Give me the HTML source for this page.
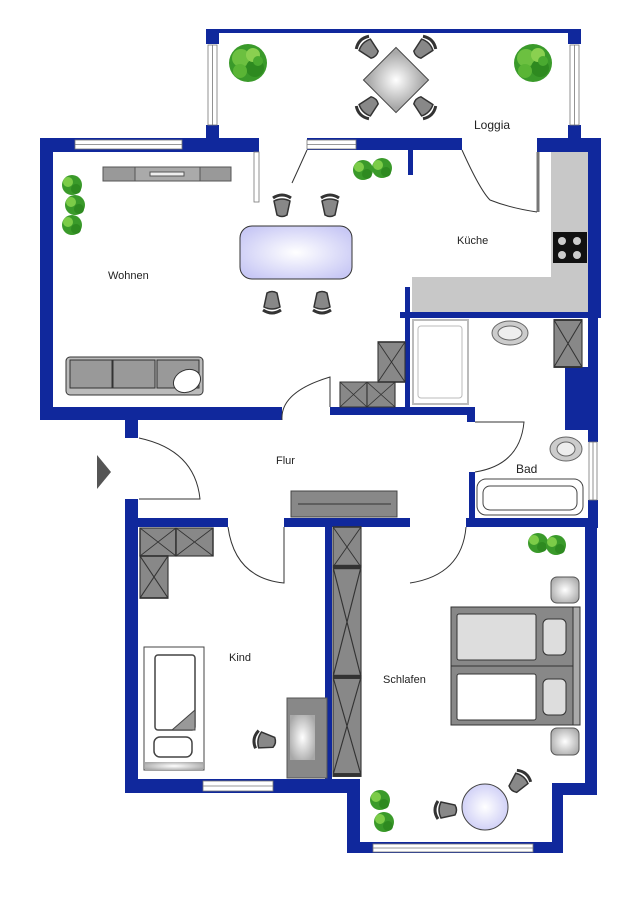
<!DOCTYPE html>
<html><head><meta charset="utf-8"><style>
html,body{margin:0;padding:0;background:#fff;}
svg{display:block}
text{font-family:"Liberation Sans",sans-serif;font-size:11px;fill:#222}
</style></head><body>
<svg width="637" height="900" viewBox="0 0 637 900" xmlns="http://www.w3.org/2000/svg">
<defs>
<radialGradient id="gl" cx="50%" cy="50%" r="60%"><stop offset="0" stop-color="#fff"/><stop offset="1" stop-color="#c8c8f5"/></radialGradient>
<radialGradient id="gg" cx="50%" cy="50%" r="60%"><stop offset="0" stop-color="#fff"/><stop offset="1" stop-color="#a8a8a8"/></radialGradient>
<g id="chair"><path d="M-9,-9 Q0,-15 9,-9" fill="none" stroke="#333" stroke-width="3"/><path d="M-8,-6 Q0,-10 8,-6 L5,8 Q0,11 -5,8 Z" fill="#888" stroke="#333" stroke-width="1.5"/></g>
<g id="plant"><circle r="19" fill="#3a9a2a"/><circle cx="-7" cy="-5" r="9" fill="#6cc040"/><circle cx="7" cy="5" r="9" fill="#2e8a20"/><circle cx="5" cy="-8" r="7" fill="#8ad050"/><circle cx="-8" cy="8" r="7" fill="#5ab535"/><circle cx="10" cy="-2" r="5" fill="#4aaa30"/></g>
<g id="sp"><circle r="10" fill="#3a9a2a"/><circle cx="-4" cy="-3" r="5" fill="#7ccc48"/><circle cx="4" cy="4" r="5" fill="#2e8a20"/></g>
<g id="x"><rect width="1" height="1" fill="#888" stroke="#333" stroke-width="0.04"/><path d="M0,0 L1,1 M1,0 L0,1" stroke="#333" stroke-width="0.03"/></g>
</defs>
<g fill="#10289c">
<rect x="206" y="29" width="375" height="4"/>
<rect x="206" y="29" width="13" height="15"/><rect x="568" y="29" width="13" height="15"/>
<rect x="206" y="125" width="13" height="14"/><rect x="568" y="125" width="13" height="14"/>
<rect x="40" y="138" width="219" height="14"/>
<rect x="307" y="138" width="155" height="12"/>
<rect x="408" y="150" width="5" height="25"/>
<rect x="537" y="138" width="64" height="14"/>
<rect x="588" y="138" width="13" height="175"/>
<rect x="40" y="138" width="13" height="282"/>
<rect x="40" y="407" width="242" height="13"/>
<rect x="330" y="407" width="145" height="8"/>
<rect x="467" y="407" width="8" height="15"/>
<rect x="125" y="407" width="13" height="31"/>
<rect x="400" y="312" width="201" height="6"/>
<rect x="405" y="287" width="5" height="122"/>
<rect x="565" y="367" width="23" height="63"/>
<rect x="588" y="312" width="10" height="130"/>
<rect x="588" y="500" width="10" height="28"/>
<rect x="469" y="472" width="6" height="50"/>
<rect x="466" y="518" width="132" height="9"/>
<rect x="125" y="499" width="13" height="294"/>
<rect x="125" y="518" width="103" height="9"/>
<rect x="284" y="518" width="126" height="9"/>
<rect x="325" y="527" width="7" height="258"/>
<rect x="125" y="779" width="235" height="14"/>
<rect x="585" y="518" width="12" height="277"/>
<rect x="552" y="783" width="45" height="12"/>
<rect x="347" y="783" width="13" height="70"/>
<rect x="552" y="783" width="11" height="70"/>
<rect x="347" y="842" width="216" height="11"/>
</g>
<g fill="#fff" stroke="#777" stroke-width="0.8">
<rect x="208" y="45" width="9" height="80"/><line x1="212.5" y1="45" x2="212.5" y2="125"/>
<rect x="570" y="45" width="9" height="80"/><line x1="574.5" y1="45" x2="574.5" y2="125"/>
<rect x="75" y="140" width="107" height="9"/><line x1="75" y1="144.5" x2="182" y2="144.5"/>
<rect x="307" y="140" width="49" height="9"/><line x1="307" y1="144.5" x2="356" y2="144.5"/>
<rect x="589" y="442" width="8" height="58"/><line x1="593" y1="442" x2="593" y2="500"/>
<rect x="203" y="781" width="70" height="10"/><line x1="203" y1="786" x2="273" y2="786"/>
<rect x="373" y="844" width="160" height="8"/><line x1="373" y1="848" x2="533" y2="848"/>
<rect x="254" y="152" width="5" height="50"/>
</g>
<line x1="538" y1="152" x2="538" y2="212" stroke="#777" stroke-width="3"/>
<g fill="none" stroke="#333" stroke-width="1">
<path d="M307,150 Q298,170 292,183"/>
<path d="M462,150 Q480,190 490,200 Q510,208 537,212"/>
<path d="M282,420 Q280,392 330,377 L330,407"/>
<path d="M475,422 L524,422 Q520,465 475,472"/>
<path d="M139,438 Q195,450 200,499 L139,499"/>
<path d="M228,527 Q235,578 284,583 L284,527"/>
<path d="M410,583 Q462,575 466,527"/>
</g>
<use href="#plant" x="248" y="63"/><use href="#plant" x="533" y="63"/>
<rect x="373" y="57" width="46" height="46" transform="rotate(45 396 80)" fill="url(#gg)" stroke="#444"/>
<use href="#chair" transform="translate(369,49) rotate(-45)"/>
<use href="#chair" transform="translate(423,49) rotate(45)"/>
<use href="#chair" transform="translate(369,106) rotate(-135)"/>
<use href="#chair" transform="translate(423,106) rotate(135)"/>
<text x="474" y="129" style="font-size:12px">Loggia</text>
<use href="#sp" x="72" y="185"/><use href="#sp" x="75" y="205"/><use href="#sp" x="72" y="225" transform="scale(1)"/>
<use href="#sp" x="363" y="170"/><use href="#sp" x="382" y="168"/>
<rect x="103" y="167" width="128" height="14" fill="#999" stroke="#555"/>
<rect x="135" y="167" width="65" height="14" fill="#aaa" stroke="#555"/>
<rect x="150" y="172" width="34" height="4" fill="#eee" stroke="#555"/>
<rect x="240" y="226" width="112" height="53" rx="12" fill="url(#gl)" stroke="#333"/>
<use href="#chair" transform="translate(282,207)"/>
<use href="#chair" transform="translate(330,207)"/>
<use href="#chair" transform="translate(272,301) rotate(180)"/>
<use href="#chair" transform="translate(322,301) rotate(180)"/>
<g stroke="#333" stroke-width="1">
<rect x="66" y="357" width="137" height="38" rx="4" fill="#bbb"/>
<rect x="70" y="360" width="42" height="28" fill="#999"/>
<rect x="113" y="360" width="42" height="28" fill="#999"/>
<rect x="157" y="360" width="42" height="28" fill="#999"/>
<ellipse cx="187" cy="381" rx="14" ry="11" fill="#fff" transform="rotate(-25 187 381)"/>
</g>
<text x="108" y="279">Wohnen</text>
<use href="#x" transform="translate(340,382) scale(27,25)"/>
<use href="#x" transform="translate(367,382) scale(28,25)"/>
<use href="#x" transform="translate(378,342) scale(27,40)"/>
<rect x="551" y="152" width="37" height="160" fill="#c8c8c8"/>
<rect x="412" y="277" width="176" height="35" fill="#c8c8c8"/>
<rect x="553" y="232" width="34" height="31" fill="#111"/>
<g fill="#ccc"><circle cx="562" cy="241" r="4"/><circle cx="577" cy="241" r="4"/><circle cx="562" cy="255" r="4"/><circle cx="577" cy="255" r="4"/></g>
<text x="457" y="244">Küche</text>
<rect x="413" y="320" width="55" height="84" fill="#fff" stroke="#bbb" stroke-width="2"/>
<rect x="418" y="326" width="44" height="72" rx="3" fill="#fff" stroke="#bbb"/>
<ellipse cx="510" cy="333" rx="18" ry="12" fill="#ccc" stroke="#666"/><ellipse cx="510" cy="333" rx="12" ry="7" fill="#eee" stroke="#666"/>
<use href="#x" transform="translate(554,320) scale(28,47)"/>
<ellipse cx="566" cy="449" rx="16" ry="12" fill="#ccc" stroke="#666"/><ellipse cx="566" cy="449" rx="9" ry="7" fill="#eee" stroke="#666"/>
<rect x="477" y="479" width="106" height="36" rx="9" fill="#fff" stroke="#444"/>
<rect x="483" y="486" width="94" height="24" rx="7" fill="#fff" stroke="#444"/>
<text x="516" y="473" style="font-size:12px">Bad</text>
<polygon points="97,455 111,472 97,489" fill="#555"/>
<rect x="291" y="491" width="106" height="26" fill="#888" stroke="#444"/>
<line x1="298" y1="504" x2="391" y2="504" stroke="#333"/>
<text x="276" y="464">Flur</text>
<use href="#x" transform="translate(140,528) scale(36,28)"/>
<use href="#x" transform="translate(176,528) scale(37,28)"/>
<use href="#x" transform="translate(140,556) scale(28,42)"/>
<rect x="144" y="647" width="60" height="123" fill="#fff" stroke="#444"/>
<rect x="155" y="655" width="40" height="75" rx="3" fill="#fff" stroke="#444" stroke-width="1.5"/>
<polygon points="172,730 195,730 195,710" fill="#999" stroke="#444"/>
<rect x="154" y="737" width="38" height="20" rx="6" fill="#fff" stroke="#444" stroke-width="1.5"/>
<rect x="145" y="762" width="58" height="8" fill="url(#gg)"/>
<rect x="287" y="698" width="40" height="80" fill="#888" stroke="#555"/>
<rect x="290" y="715" width="25" height="45" fill="url(#gg)"/>
<use href="#chair" transform="translate(266,741) rotate(-80)"/>
<text x="229" y="661">Kind</text>
<use href="#x" transform="translate(333,527) scale(28,40)"/>
<use href="#x" transform="translate(333,567) scale(28,110)"/>
<use href="#x" transform="translate(333,677) scale(28,98)"/>
<use href="#sp" x="538" y="543"/><use href="#sp" x="556" y="545"/>
<use href="#sp" x="380" y="800"/><use href="#sp" x="384" y="822"/>
<rect x="551" y="577" width="28" height="26" rx="6" fill="url(#gg)" stroke="#555"/>
<rect x="551" y="728" width="28" height="27" rx="6" fill="url(#gg)" stroke="#555"/>
<rect x="451" y="607" width="129" height="118" fill="#888" stroke="#333"/>
<rect x="573" y="607" width="7" height="118" fill="#aaa" stroke="#333"/>
<line x1="451" y1="666" x2="573" y2="666" stroke="#333"/>
<rect x="457" y="614" width="79" height="46" rx="2" fill="#ddd" stroke="#333"/>
<rect x="457" y="674" width="79" height="46" rx="2" fill="#fff" stroke="#333"/>
<rect x="543" y="619" width="23" height="36" rx="5" fill="#ddd" stroke="#333"/>
<rect x="543" y="679" width="23" height="36" rx="5" fill="#ddd" stroke="#333"/>
<circle cx="485" cy="807" r="23" fill="url(#gl)" stroke="#444"/>
<use href="#chair" transform="translate(447,810) rotate(-90)"/>
<use href="#chair" transform="translate(518,783) rotate(40)"/>
<text x="383" y="683">Schlafen</text>
</svg>
</body></html>
